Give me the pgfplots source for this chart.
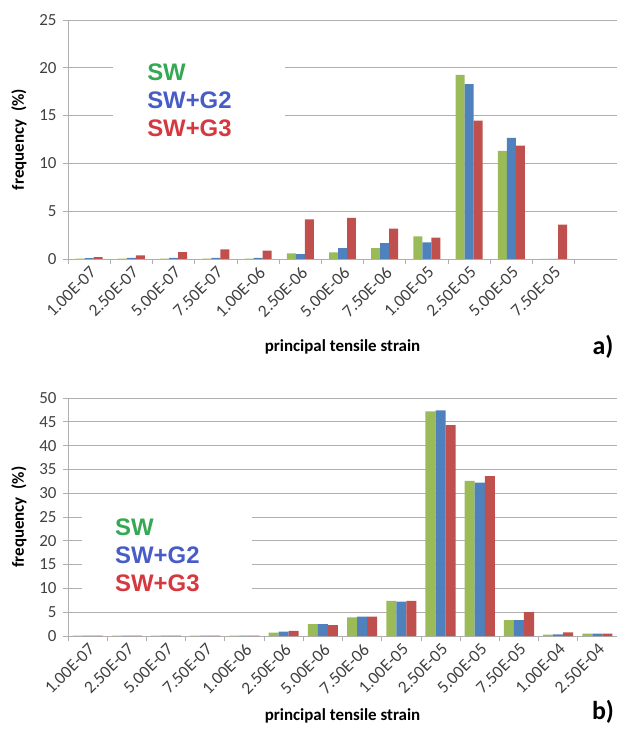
\documentclass[border=0pt]{standalone}
\usepackage{pgfplots}
\pgfplotsset{compat=1.18}
\usepackage{fontspec}
\setmainfont{Carlito}
\newfontfamily\legfont{Liberation Sans}
\definecolor{barG}{HTML}{9BBB59}
\definecolor{barB}{HTML}{4F81BD}
\definecolor{barR}{HTML}{C0504D}
\definecolor{txtG}{RGB}{52,168,83}
\definecolor{txtB}{RGB}{72,92,200}
\definecolor{txtR}{RGB}{214,56,64}
\definecolor{gridc}{RGB}{175,175,175}
\definecolor{labc}{RGB}{64,64,64}

\pgfplotsset{
  myaxis/.style={
    scale only axis, width=549bp, clip=false,
    anchor=south west,
    /pgf/number format/assume math mode=true,
    axis x line*=bottom, axis y line*=left,
    axis line style={draw=gridc, line width=0.8pt},
    tick style={draw=gridc, line width=0.8pt},
    tick align=outside, major tick length=5bp,
    ymajorgrids, grid style={draw=gridc, line width=0.8pt},
    ybar=0pt, ymin=0, xmin=-0.5,
    x tick label as interval,
    yticklabel style={font=\fontsize{17}{19}\selectfont, text=labc, xshift=-3bp},
    xticklabel style={font=\fontsize{17.5}{19}\selectfont, text=labc, rotate=45, anchor=north east, inner sep=1bp},
    xlabel={principal tensile strain},
    ylabel={frequency\ \ (\%)},
    label style={font=\bfseries\fontsize{17}{19}\selectfont},
    ylabel style={at={([xshift=-49bp]axis description cs:0,0.5)}, anchor=center},
  }
}

\begin{document}
\begin{tikzpicture}
\path[use as bounding box] (0,0) rectangle (617bp,733bp);

% ---------------- a) ----------------
\begin{axis}[myaxis, at={(68bp,474bp)}, height=239bp,
  xmax=12.5, ymax=25, ytick={0,5,...,25},
  xtick={-0.5,0.5,...,12.5},
  xticklabels={\textnormal{1.00E-07},\textnormal{2.50E-07},\textnormal{5.00E-07},\textnormal{7.50E-07},\textnormal{1.00E-06},\textnormal{2.50E-06},\textnormal{5.00E-06},\textnormal{7.50E-06},\textnormal{1.00E-05},\textnormal{2.50E-05},\textnormal{5.00E-05},\textnormal{7.50E-05},{}},
  bar width=0.213,
  xlabel style={at={([yshift=-88bp]axis description cs:0.5,0)}, anchor=center},
]
\addplot[fill=barG, draw=none, bar shift=-0.213] coordinates {
(0,0.03) (1,0.04) (2,0.04) (3,0.04) (4,0.05) (5,0.60) (6,0.70) (7,1.15) (8,2.37) (9,19.25) (10,11.30) (11,0)};
\addplot[fill=barB, draw=none, bar shift=0] coordinates {
(0,0.08) (1,0.12) (2,0.13) (3,0.13) (4,0.13) (5,0.52) (6,1.15) (7,1.67) (8,1.74) (9,18.30) (10,12.66) (11,0)};
\addplot[fill=barR, draw=none, bar shift=0.213] coordinates {
(0,0.20) (1,0.38) (2,0.73) (3,1.00) (4,0.87) (5,4.15) (6,4.29) (7,3.17) (8,2.23) (9,14.47) (10,11.85) (11,3.59)};
\node[fill=white, inner sep=0, minimum width=172bp, minimum height=105bp, anchor=north west] at (rel axis cs:0.082,0.895) {};
\node[anchor=north west, align=left, inner sep=0, font=\legfont\bfseries\fontsize{24}{28}\selectfont] at (rel axis cs:0.144,0.818)
  {\textcolor{txtG}{SW}\\\textcolor{txtB}{SW+G2}\\\textcolor{txtR}{SW+G3}};
\node[font=\bfseries\fontsize{26}{28}\selectfont, anchor=center] at ([xshift=-14bp,yshift=-88bp]rel axis cs:1,0) {a)};
\end{axis}

% ---------------- b) ----------------
\begin{axis}[myaxis, at={(68bp,97bp)}, height=238bp,
  xmax=13.5, ymax=50, ytick={0,5,...,50},
  xtick={-0.5,0.5,...,13.5},
  xticklabels={\textnormal{1.00E-07},\textnormal{2.50E-07},\textnormal{5.00E-07},\textnormal{7.50E-07},\textnormal{1.00E-06},\textnormal{2.50E-06},\textnormal{5.00E-06},\textnormal{7.50E-06},\textnormal{1.00E-05},\textnormal{2.50E-05},\textnormal{5.00E-05},\textnormal{7.50E-05},\textnormal{1.00E-04},\textnormal{2.50E-04}},
  bar width=0.256,
  xlabel style={at={([yshift=-80bp]axis description cs:0.5,0)}, anchor=center},
]
\addplot[fill=barG, draw=none, bar shift=-0.256] coordinates {
(0,0.1) (1,0.1) (2,0.1) (3,0.1) (4,0.1) (5,0.7) (6,2.5) (7,3.9) (8,7.4) (9,47.2) (10,32.6) (11,3.36) (12,0.3) (13,0.5)};
\addplot[fill=barB, draw=none, bar shift=0] coordinates {
(0,0.1) (1,0.1) (2,0.1) (3,0.1) (4,0.1) (5,0.9) (6,2.5) (7,4.05) (8,7.2) (9,47.4) (10,32.2) (11,3.36) (12,0.35) (13,0.5)};
\addplot[fill=barR, draw=none, bar shift=0.256] coordinates {
(0,0.1) (1,0.1) (2,0.1) (3,0.1) (4,0.1) (5,1.1) (6,2.3) (7,4.05) (8,7.4) (9,44.3) (10,33.6) (11,5.0) (12,0.77) (13,0.5)};
\node[fill=white, inner sep=0, minimum width=170bp, minimum height=100bp, anchor=north west] at (rel axis cs:0.0255,0.571) {};
\node[anchor=north west, align=left, inner sep=0, font=\legfont\bfseries\fontsize{24}{28}\selectfont] at (rel axis cs:0.0856,0.494)
  {\textcolor{txtG}{SW}\\\textcolor{txtB}{SW+G2}\\\textcolor{txtR}{SW+G3}};
\node[font=\bfseries\fontsize{26}{28}\selectfont, anchor=center] at ([xshift=-14bp,yshift=-76bp]rel axis cs:1,0) {b)};
\end{axis}
\end{tikzpicture}
\end{document}
